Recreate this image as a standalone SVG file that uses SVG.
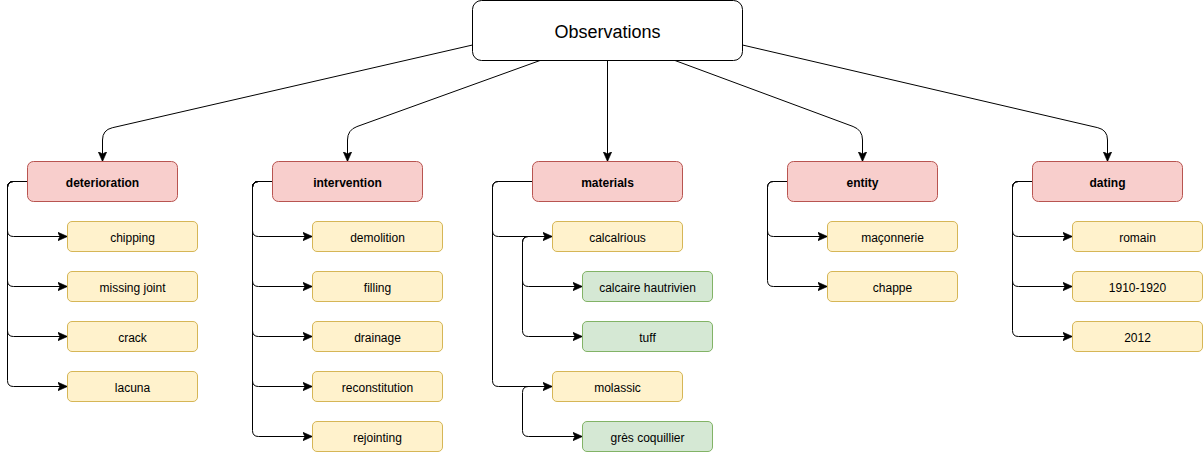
<svg xmlns="http://www.w3.org/2000/svg" width="1203" height="452" viewBox="0 0 1203 452">
<style>
text{font-family:"Liberation Sans",Arial,Helvetica,sans-serif;font-size:12px;fill:#000;text-anchor:middle;dominant-baseline:central}
.root rect{fill:#fff;stroke:#000;stroke-width:1}
.root text{font-size:18px}
.cat rect{fill:#f8cecc;stroke:#b85450;stroke-width:1}
.cat text{font-weight:bold}
.leaf rect{fill:#fff2cc;stroke:#d6b656;stroke-width:1}
.sub rect{fill:#d5e8d4;stroke:#82b366;stroke-width:1}
.conn path{fill:none;stroke:#000;stroke-width:1;marker-end:url(#arr)}
</style>
<defs>
<marker id="arr" markerUnits="userSpaceOnUse" markerWidth="10" markerHeight="10" viewBox="0 0 8 8" refX="8" refY="4" orient="auto">
<path d="M0,0.5 L8,4 L0,7.5 L2,4 Z" fill="#000" stroke="#000" stroke-width="0.5"/>
</marker>
</defs>
<g id="connectors" class="conn">
<path d="M472.5,45 L112.25,127.76 Q102.5,130 102.5,140 L102.5,161.5"/>
<path d="M540,60.5 L356.9,126.6 Q347.5,130 347.5,140 L347.5,161.5"/>
<path d="M607.5,60.5 L607.5,161.5"/>
<path d="M675,60.5 L853.1,126.5 Q862.5,130 862.5,140 L862.5,161.5"/>
<path d="M742.5,45 L1097.8,127.7 Q1107.5,130 1107.5,140 L1107.5,161.5"/>
<!-- deterioration -->
<path d="M27.5,181.5 L13.5,181.5 Q7.5,181.5 7.5,187.5 L7.5,230.5 Q7.5,236.5 13.5,236.5 L67.5,236.5"/>
<path d="M27.5,181.5 L13.5,181.5 Q7.5,181.5 7.5,187.5 L7.5,280.5 Q7.5,286.5 13.5,286.5 L67.5,286.5"/>
<path d="M27.5,181.5 L13.5,181.5 Q7.5,181.5 7.5,187.5 L7.5,330.5 Q7.5,336.5 13.5,336.5 L67.5,336.5"/>
<path d="M27.5,181.5 L13.5,181.5 Q7.5,181.5 7.5,187.5 L7.5,380.5 Q7.5,386.5 13.5,386.5 L67.5,386.5"/>
<!-- intervention -->
<path d="M272.5,181.5 L258.5,181.5 Q252.5,181.5 252.5,187.5 L252.5,230.5 Q252.5,236.5 258.5,236.5 L312.5,236.5"/>
<path d="M272.5,181.5 L258.5,181.5 Q252.5,181.5 252.5,187.5 L252.5,280.5 Q252.5,286.5 258.5,286.5 L312.5,286.5"/>
<path d="M272.5,181.5 L258.5,181.5 Q252.5,181.5 252.5,187.5 L252.5,330.5 Q252.5,336.5 258.5,336.5 L312.5,336.5"/>
<path d="M272.5,181.5 L258.5,181.5 Q252.5,181.5 252.5,187.5 L252.5,380.5 Q252.5,386.5 258.5,386.5 L312.5,386.5"/>
<path d="M272.5,181.5 L258.5,181.5 Q252.5,181.5 252.5,187.5 L252.5,430.5 Q252.5,436.5 258.5,436.5 L312.5,436.5"/>
<!-- materials -->
<path d="M532.5,181.5 L498.5,181.5 Q492.5,181.5 492.5,187.5 L492.5,230.5 Q492.5,236.5 498.5,236.5 L552.5,236.5"/>
<path d="M532.5,181.5 L498.5,181.5 Q492.5,181.5 492.5,187.5 L492.5,380.5 Q492.5,386.5 498.5,386.5 L552.5,386.5"/>
<path d="M552.5,236.5 L528.5,236.5 Q522.5,236.5 522.5,242.5 L522.5,280.5 Q522.5,286.5 528.5,286.5 L582.5,286.5"/>
<path d="M552.5,236.5 L528.5,236.5 Q522.5,236.5 522.5,242.5 L522.5,330.5 Q522.5,336.5 528.5,336.5 L582.5,336.5"/>
<path d="M552.5,386.5 L528.5,386.5 Q522.5,386.5 522.5,392.5 L522.5,430.5 Q522.5,436.5 528.5,436.5 L582.5,436.5"/>
<!-- entity -->
<path d="M787.5,181.5 L773.5,181.5 Q767.5,181.5 767.5,187.5 L767.5,230.5 Q767.5,236.5 773.5,236.5 L827.5,236.5"/>
<path d="M787.5,181.5 L773.5,181.5 Q767.5,181.5 767.5,187.5 L767.5,280.5 Q767.5,286.5 773.5,286.5 L827.5,286.5"/>
<!-- dating -->
<path d="M1032.5,181.5 L1018.5,181.5 Q1012.5,181.5 1012.5,187.5 L1012.5,230.5 Q1012.5,236.5 1018.5,236.5 L1072.5,236.5"/>
<path d="M1032.5,181.5 L1018.5,181.5 Q1012.5,181.5 1012.5,187.5 L1012.5,280.5 Q1012.5,286.5 1018.5,286.5 L1072.5,286.5"/>
<path d="M1032.5,181.5 L1018.5,181.5 Q1012.5,181.5 1012.5,187.5 L1012.5,330.5 Q1012.5,336.5 1018.5,336.5 L1072.5,336.5"/>
</g>
<g id="observations" class="root"><rect x="472.5" y="0.5" width="270" height="60" rx="9"/><text x="607.5" y="32">Observations</text></g>
<g id="deterioration" class="cat"><rect x="27.5" y="161.5" width="150" height="40" rx="6"/><text x="102.5" y="183">deterioration</text></g>
<g id="intervention" class="cat"><rect x="272.5" y="161.5" width="150" height="40" rx="6"/><text x="347.5" y="183">intervention</text></g>
<g id="materials" class="cat"><rect x="532.5" y="161.5" width="150" height="40" rx="6"/><text x="607.5" y="183">materials</text></g>
<g id="entity" class="cat"><rect x="787.5" y="161.5" width="150" height="40" rx="6"/><text x="862.5" y="183">entity</text></g>
<g id="dating" class="cat"><rect x="1032.5" y="161.5" width="150" height="40" rx="6"/><text x="1107.5" y="183">dating</text></g>
<g id="chipping" class="leaf"><rect x="67.5" y="221.5" width="130" height="30" rx="4.5"/><text x="132.5" y="238">chipping</text></g>
<g id="missing-joint" class="leaf"><rect x="67.5" y="271.5" width="130" height="30" rx="4.5"/><text x="132.5" y="288">missing joint</text></g>
<g id="crack" class="leaf"><rect x="67.5" y="321.5" width="130" height="30" rx="4.5"/><text x="132.5" y="338">crack</text></g>
<g id="lacuna" class="leaf"><rect x="67.5" y="371.5" width="130" height="30" rx="4.5"/><text x="132.5" y="388">lacuna</text></g>
<g id="demolition" class="leaf"><rect x="312.5" y="221.5" width="130" height="30" rx="4.5"/><text x="377.5" y="238">demolition</text></g>
<g id="filling" class="leaf"><rect x="312.5" y="271.5" width="130" height="30" rx="4.5"/><text x="377.5" y="288">filling</text></g>
<g id="drainage" class="leaf"><rect x="312.5" y="321.5" width="130" height="30" rx="4.5"/><text x="377.5" y="338">drainage</text></g>
<g id="reconstitution" class="leaf"><rect x="312.5" y="371.5" width="130" height="30" rx="4.5"/><text x="377.5" y="388">reconstitution</text></g>
<g id="rejointing" class="leaf"><rect x="312.5" y="421.5" width="130" height="30" rx="4.5"/><text x="377.5" y="438">rejointing</text></g>
<g id="calcalrious" class="leaf"><rect x="552.5" y="221.5" width="130" height="30" rx="4.5"/><text x="617.5" y="238">calcalrious</text></g>
<g id="calcaire-hautrivien" class="sub"><rect x="582.5" y="271.5" width="130" height="30" rx="4.5"/><text x="647.5" y="288">calcaire hautrivien</text></g>
<g id="tuff" class="sub"><rect x="582.5" y="321.5" width="130" height="30" rx="4.5"/><text x="647.5" y="338">tuff</text></g>
<g id="molassic" class="leaf"><rect x="552.5" y="371.5" width="130" height="30" rx="4.5"/><text x="617.5" y="388">molassic</text></g>
<g id="gres-coquillier" class="sub"><rect x="582.5" y="421.5" width="130" height="30" rx="4.5"/><text x="647.5" y="438">grès coquillier</text></g>
<g id="maconnerie" class="leaf"><rect x="827.5" y="221.5" width="130" height="30" rx="4.5"/><text x="892.5" y="238">maçonnerie</text></g>
<g id="chappe" class="leaf"><rect x="827.5" y="271.5" width="130" height="30" rx="4.5"/><text x="892.5" y="288">chappe</text></g>
<g id="romain" class="leaf"><rect x="1072.5" y="221.5" width="130" height="30" rx="4.5"/><text x="1137.5" y="238">romain</text></g>
<g id="d1910" class="leaf"><rect x="1072.5" y="271.5" width="130" height="30" rx="4.5"/><text x="1137.5" y="288">1910-1920</text></g>
<g id="d2012" class="leaf"><rect x="1072.5" y="321.5" width="130" height="30" rx="4.5"/><text x="1137.5" y="338">2012</text></g>
</svg>
